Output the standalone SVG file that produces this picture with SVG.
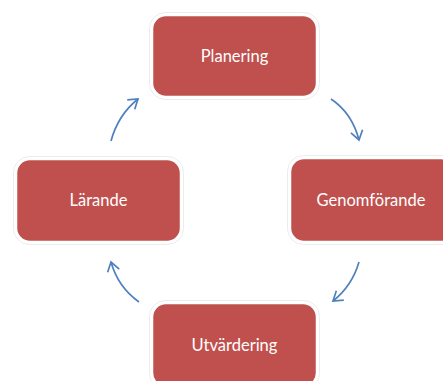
<svg xmlns="http://www.w3.org/2000/svg" width="443" height="381" viewBox="0 0 443 381">
<style>
.box{fill:#C0504D;stroke:#ffffff;stroke-width:2.5}
.halo{fill:none;stroke:#ececec;stroke-width:1}
.lbl{font-family:Lato,"Open Sans",sans-serif;font-size:16.5px;fill:#ffffff;text-anchor:middle;dominant-baseline:central}
.arr{fill:none;stroke:#4F81BD;stroke-width:1.7;marker-end:url(#ah)}
</style>
<defs>
<marker id="ah" viewBox="0 0 12 14" refX="10" refY="7" markerWidth="12" markerHeight="14" markerUnits="userSpaceOnUse" orient="auto">
<path d="M1,1 L10,7 L1,13" fill="none" stroke="#4F81BD" stroke-width="1.7"/>
</marker>
</defs>
<rect width="443" height="381" fill="#ffffff"/>
<g id="planering">
<rect class="halo" x="149.5" y="12.5" width="170" height="87" rx="16"/>
<rect class="box" x="152" y="15" width="165" height="82" rx="14"/>
<text class="lbl" x="234.5" y="56">Planering</text>
</g>
<g id="genomforande">
<rect class="halo" x="287.5" y="155.5" width="170" height="89" rx="16"/>
<rect class="box" x="290" y="158" width="165" height="84" rx="14"/>
<text class="lbl" x="371" y="200">Genomförande</text>
</g>
<g id="utvardering">
<rect class="halo" x="149.5" y="300.5" width="170" height="89" rx="16"/>
<rect class="box" x="152" y="303" width="165" height="84" rx="14"/>
<text class="lbl" x="234.5" y="345">Utvärdering</text>
</g>
<g id="larande">
<rect class="halo" x="13.5" y="156.5" width="170" height="88" rx="16"/>
<rect class="box" x="16" y="159" width="165" height="83" rx="14"/>
<text class="lbl" x="98.5" y="200">Lärande</text>
</g>
<g id="connectors">
<path class="arr" d="M331,99 Q352,113 359,140"/>
<path class="arr" d="M359,262 Q352,286 333,301"/>
<path class="arr" d="M139,302 Q118,287 111,262"/>
<path class="arr" d="M111,141 Q118,115 138,99"/>
</g>
</svg>
